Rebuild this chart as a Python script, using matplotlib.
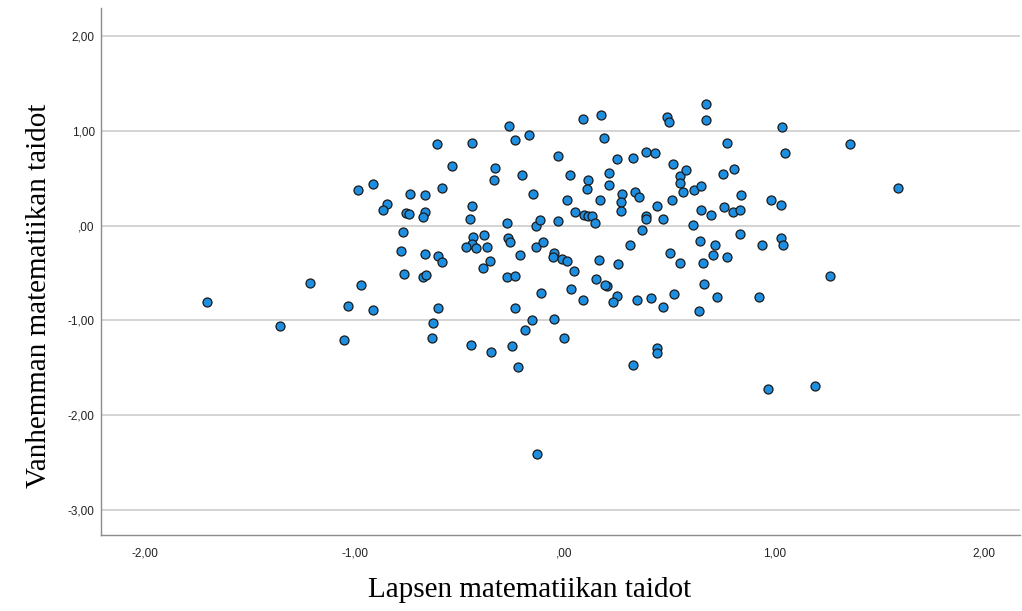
import matplotlib.pyplot as plt
from matplotlib.ticker import FuncFormatter

# Child's math skills (x) vs parent's math skills (y)
lapsen_taidot = [
    -0.986, -0.914, -0.738, -0.667, -0.848, -0.867, -0.757, -0.743, -0.667, -0.676,
    -0.771, -0.780, -0.667, -0.767, -0.676, -0.662, -1.705, -1.357, -1.214, -0.971,
    -1.033, -0.914, -1.052, -0.629, -0.633, -0.605, -0.610, -0.440, -0.267, -0.238,
    -0.171, 0.086, 0.176, 0.186, 0.490, 0.500, 0.676, 0.676, 0.776, -0.538,
    -0.586, -0.333, -0.338, -0.205, -0.443, -0.452, -0.152, -0.276, -0.138, -0.119,
    -0.029, 0.024, 0.014, -0.029, 0.048, 0.110, 0.105, 0.095, 0.110, 0.129,
    0.143, 0.167, 0.210, 0.214, 0.248, 0.324, 0.386, 0.429, 0.276, 0.271,
    0.267, 0.338, 0.357, 0.386, 0.386, 0.367, 0.443, 0.467, 0.519, 0.552,
    0.552, 0.581, 0.567, 0.510, 0.619, 0.652, 0.652, 0.700, 0.610, 0.757,
    0.762, -0.438, -0.443, -0.471, -0.424, -0.386, -0.371, -0.357, -0.390, -0.605,
    -0.586, -0.271, -0.262, -0.214, -0.138, -0.105, -0.276, -0.238, -0.048, -0.057,
    -0.014, 0.010, 0.043, 0.162, 0.152, 0.257, 0.310, 0.505, 0.552, 0.648,
    0.662, 0.719, 0.710, 0.776, 1.038, 1.052, 1.362, 0.810, 0.843, 0.986,
    1.033, 1.590, 0.805, 0.838, 0.838, 0.943, 1.033, 1.043, 1.267, 0.667,
    0.729, 0.929, 0.643, 0.971, 1.195, 0.200, 0.195, 0.033, -0.110, 0.090,
    0.252, 0.229, 0.343, 0.414, 0.471, 0.524, -0.238, -0.157, -0.190, -0.052,
    -0.005, -0.448, -0.352, -0.252, -0.224, 0.324, 0.443, 0.443, -0.129,
]
vanhemman_taidot = [
    0.38, 0.44, 0.33, 0.32, 0.23, 0.17, 0.13, 0.12, 0.14, 0.09,
    -0.07, -0.27, -0.30, -0.51, -0.54, -0.52, -0.81, -1.06, -0.61, -0.63,
    -0.85, -0.89, -1.21, -1.03, -1.19, -0.87, 0.86, 0.87, 1.05, 0.91,
    0.96, 1.13, 1.17, 0.93, 1.15, 1.10, 1.29, 1.12, 0.87, 0.63,
    0.40, 0.61, 0.48, 0.54, 0.21, 0.07, 0.33, 0.03, 0.00, 0.06,
    0.74, 0.54, 0.27, 0.05, 0.14, 0.48, 0.39, 0.11, 0.10, 0.10,
    0.03, 0.27, 0.43, 0.56, 0.70, 0.72, 0.78, 0.77, 0.33, 0.25,
    0.15, 0.36, 0.30, 0.10, 0.07, -0.05, 0.21, 0.07, 0.65, 0.52,
    0.45, 0.59, 0.36, 0.27, 0.38, 0.42, 0.17, 0.11, 0.01, 0.55,
    0.20, -0.12, -0.19, -0.23, -0.24, -0.10, -0.23, -0.37, -0.45, -0.32,
    -0.38, -0.13, -0.17, -0.31, -0.23, -0.17, -0.54, -0.53, -0.29, -0.33,
    -0.35, -0.37, -0.48, -0.36, -0.56, -0.40, -0.20, -0.29, -0.39, -0.16,
    -0.39, -0.20, -0.31, -0.33, 1.04, 0.77, 0.86, 0.60, 0.32, 0.27,
    0.22, 0.40, 0.14, 0.17, -0.09, -0.20, -0.13, -0.20, -0.53, -0.62,
    -0.75, -0.75, -0.90, -1.73, -1.69, -0.64, -0.63, -0.67, -0.71, -0.78,
    -0.74, -0.81, -0.78, -0.76, -0.86, -0.72, -0.87, -1.00, -1.10, -0.99,
    -1.19, -1.26, -1.33, -1.27, -1.49, -1.47, -1.29, -1.34, -2.41,
]

x_ticks = [-2, -1, 0, 1, 2]
y_ticks = [2, 1, 0, -1, -2, -3]


def pilkku(v, pos):
    # SPSS style: comma decimal, no leading zero for 0
    s = f"{v:.2f}".replace(".", ",")
    if s == "0,00" or s == "-0,00":
        s = ",00"
    return s


fig = plt.figure(figsize=(10.22, 6.11), dpi=100)
ax = fig.add_axes([0.0988, 0.124, 0.899, 0.863])

ax.set_axisbelow(True)
ax.yaxis.grid(True, color="#d4d4d4", linewidth=1.4)
ax.scatter(lapsen_taidot, vanhemman_taidot, s=42, c="#1e8fe0",
           edgecolors="#1a1a1a", linewidths=0.9, zorder=3)

ax.set_xlim(-2.21, 2.17)
ax.set_ylim(-3.27, 2.30)
ax.set_xticks(x_ticks)
ax.set_yticks(y_ticks)
ax.xaxis.set_major_formatter(FuncFormatter(pilkku))
ax.yaxis.set_major_formatter(FuncFormatter(pilkku))
ax.tick_params(length=0, labelsize=8.5, colors="#222222")
ax.tick_params(axis="x", pad=9)
ax.tick_params(axis="y", pad=4.5)
for lab in ax.get_xticklabels() + ax.get_yticklabels():
    lab.set_family("Liberation Sans")

for side in ["top", "right"]:
    ax.spines[side].set_visible(False)
for side in ["left", "bottom"]:
    ax.spines[side].set_color("#8c8c8c")
    ax.spines[side].set_linewidth(1.0)

# labels sit a bit off-centre in the original, like SPSS puts them
ax.set_xlabel("Lapsen matematiikan taidot", family="Liberation Serif",
              fontsize=21)
ax.xaxis.set_label_coords(0.467, -0.08)
ax.set_ylabel("Vanhemman matematiikan taidot", family="Liberation Serif",
              fontsize=21, labelpad=11)
ax.yaxis.label.set_y(0.455)

fig.savefig("out.png", dpi=100)
